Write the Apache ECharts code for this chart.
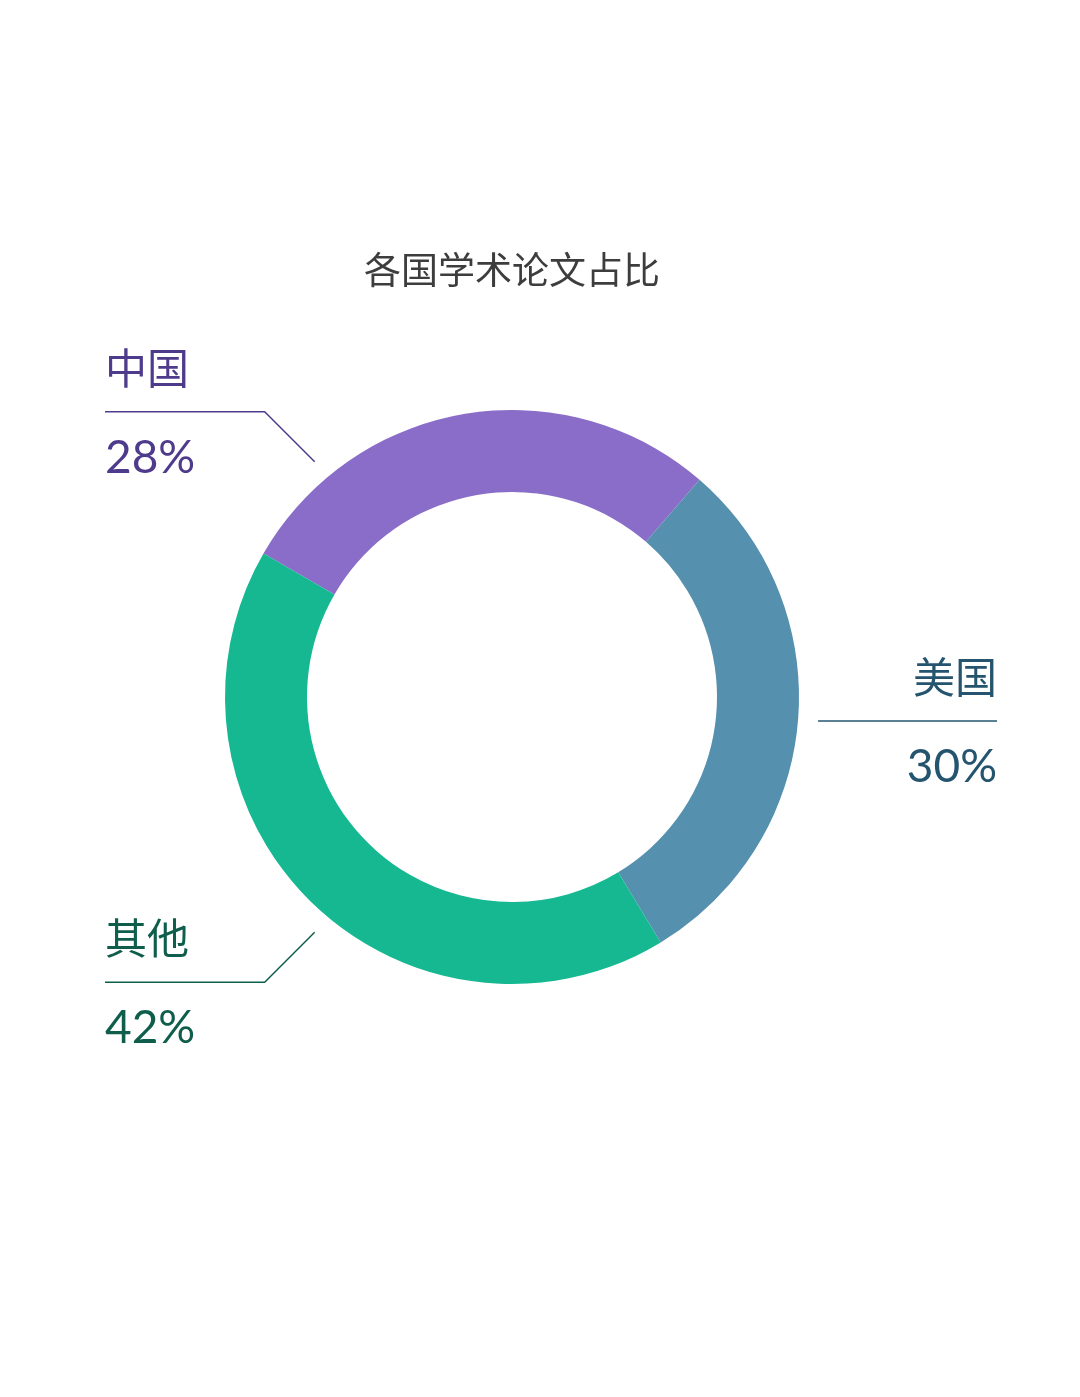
<!DOCTYPE html>
<html>
<head>
<meta charset="utf-8">
<script src="https://cdn.jsdelivr.net/npm/echarts@6/dist/echarts.min.js"></script>
<style>
  html, body { margin: 0; padding: 0; background: #fff; }
  #chart { width: 1080px; height: 1397px; }
</style>
</head>
<body>
<div id="chart"></div>
<script>
var names = ['中国', '美国', '其他'];
var values = [28, 30, 42];
var sliceColors = ['#896dc8', '#5590ae', '#16b892'];
var textColors = ['#4f3b8b', '#25546f', '#0f5e4c'];

// where each leader line leaves the ring (degrees) and where its flat part ends
var lineAngles = [130, -4.5, -130];
var lineEnds = [105, 997, 105];

var cx = 512, cy = 697;
var myChart = echarts.init(document.getElementById('chart'));

var data = [];
for (var i = 0; i < names.length; i++) {
    data.push({
        name: names[i],
        value: values[i],
        itemStyle: { color: sliceColors[i] },
        label: { color: textColors[i] },
        labelLine: { lineStyle: { color: textColors[i] } }
    });
}

option = {
    animation: false,
    title: {
        text: '各国学术论文占比',
        left: 507,
        textAlign: 'center',
        top: 246,
        textStyle: {
            fontFamily: 'Noto Sans CJK SC',
            fontSize: 37,
            fontWeight: 'normal',
            color: '#3d3d3d'
        }
    },
    series: [{
        type: 'pie',
        center: [cx, cy],
        radius: [205, 287],
        startAngle: 150,
        clockwise: true,
        silent: true,
        label: {
            show: true,
            formatter: '{n|{b}}\n{v|{c}%}',
            rich: {
                n: { fontFamily: 'Noto Sans CJK SC', fontSize: 42, lineHeight: 92 },
                v: { fontFamily: 'Lato, "Noto Sans"', fontSize: 46, fontWeight: 'normal', lineHeight: 88 }
            }
        },
        labelLine: {
            show: true,
            length: 20,
            length2: 100,
            lineStyle: { width: 1.5 }
        },
        labelLayout: function (p) {
            var i = p.dataIndex;
            var a = lineAngles[i] * Math.PI / 180;
            var r = 307;
            var x0 = cx + r * Math.cos(a);
            var y0 = cy - r * Math.sin(a);
            var left = lineEnds[i] < cx;
            var x1 = x0, y1 = y0;
            if (left) {
                x1 = x0 - 50;
                y1 = y0 < cy ? y0 - 50 : y0 + 50;
            }
            return {
                x: lineEnds[i],
                y: y1,
                align: left ? 'left' : 'right',
                verticalAlign: 'middle',
                labelLinePoints: [[x0, y0], [x1, y1], [lineEnds[i], y1]]
            };
        },
        data: data
    }]
};
myChart.setOption(option);
</script>
</body>
</html>
